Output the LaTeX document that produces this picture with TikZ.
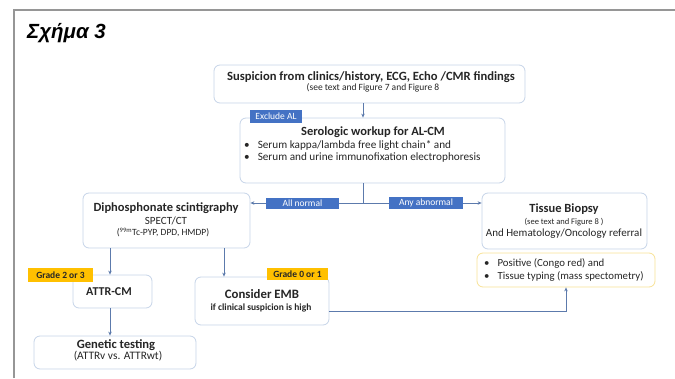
\documentclass[tikz,border=0pt]{standalone}
\usepackage{fontspec}
\setmainfont{Carlito}
\newfontfamily\titlefont{Liberation Sans}
\usetikzlibrary{arrows.meta}
\definecolor{framecol}{RGB}{150,150,150}
\definecolor{boxcol}{RGB}{198,212,232}
\definecolor{typecol}{RGB}{248,226,150}
\definecolor{linecol}{RGB}{92,122,172}
\definecolor{tagcol}{RGB}{68,114,196}
\definecolor{goldcol}{RGB}{255,192,0}
\definecolor{textcol}{RGB}{38,38,38}
\tikzset{
  box/.style={draw=boxcol, rounded corners=6pt, line width=0.8pt, fill=white, inner sep=0pt},
  txt/.style={anchor=mid, inner sep=0pt, text=textcol},
  blt/.style={anchor=mid west, inner sep=0pt, text=textcol},
  tagblue/.style={fill=tagcol, text=white, inner sep=0pt, font=\fontsize{9.5}{9.5}\selectfont},
  taggold/.style={fill=goldcol, text=textcol, inner sep=0pt, font=\bfseries\fontsize{9.5}{9.5}\selectfont},
  arr/.style={-{Stealth[length=4pt,width=3.5pt]}, linecol, line width=0.8pt},
}
\newcommand{\fs}[1]{\fontsize{#1}{#1}\selectfont}

\begin{document}
\begin{tikzpicture}[x=1pt, y=-1pt]

  \useasboundingbox (0,0) rectangle (675,378);

  % Frame and title.
  \draw[framecol, line width=1.6pt] (14,378) -- (14,10) -- (675,10);
  \node[anchor=base west, inner sep=0pt] (title) at (27,38)
    {\titlefont\bfseries\itshape\fs{20.5}Σχήμα 3};

  % Helper positions for the connectors.
  \coordinate (c1) at (363,203);
  \coordinate (c2) at (110,0);
  \coordinate (c3) at (224,0);

  % Boxes.
  \node[box, minimum width=311pt, minimum height=38pt] (susp) at (369.5,84) {};
  \node[box, minimum width=265pt, minimum height=65pt] (sero) at (372.5,150.5) {};
  \node[box, minimum width=167pt, minimum height=55pt] (diph) at (166.5,220.5) {};
  \node[box, minimum width=165pt, minimum height=56pt] (tissue) at (564.5,221) {};
  \node[box, draw=typecol, minimum width=178pt, minimum height=34pt] (typing) at (566,270) {};
  \node[box, minimum width=79pt, minimum height=33pt] (attr) at (112.5,291.5) {};
  \node[box, minimum width=134pt, minimum height=48pt] (emb) at (262,301) {};
  \node[box, minimum width=162pt, minimum height=33pt] (genet) at (115,352.5) {};

  % Connectors.
  \draw[arr] (susp.south -| c1) -- (sero.north -| c1);
  \draw[linecol, line width=0.8pt] (sero.south -| c1) -- (c1);
  \draw[arr] (c1) -- (c1 -| diph.east);
  \draw[arr] (c1) -- (c1 -| tissue.west);
  \draw[arr] (diph.south -| c2) -- (attr.north -| c2);
  \draw[arr] (diph.south -| c3) -- (emb.north -| c3);
  \draw[arr] (attr.south -| c2) -- (genet.north -| c2);
  \draw[arr] ([yshift=-10pt]emb.east) -| (typing.south);

  % Tags.
  \node[tagblue, minimum width=52pt, minimum height=12.5pt] (excl) at (276,116.5) {Exclude AL};
  \node[tagblue, minimum width=73pt, minimum height=11.5pt] (normal) at (302.5,203.5) {All normal};
  \node[tagblue, minimum width=74pt, minimum height=12pt] (abnormal) at (426,203) {Any abnormal};
  \node[taggold, minimum width=65pt, minimum height=14pt] (g23) at (60.5,275) {Grade 2 or 3};
  \node[taggold, minimum width=61pt, minimum height=12pt] (g01) at (297.5,274) {Grade 0 or 1};

  % Texts.
  \node[txt, font=\bfseries\fs{12.6}] (susp-a) at (371,78)
    {Suspicion from clinics/history, ECG, Echo /CMR findings};
  \node[txt, font=\fs{9.5}] (susp-b) at (373,88.5) {(see text and Figure 7 and Figure 8};

  \node[txt, font=\bfseries\fs{12.5}] (sero-a) at (373,133) {Serologic workup for AL-CM};
  \node[blt, font=\fs{11.2}] (sero-b) at (244,146.5)
    {\textbullet\hspace{8pt}Serum kappa/lambda free light chain* and};
  \node[blt, font=\fs{11.2}] (sero-c) at (244,158.5)
    {\textbullet\hspace{8pt}Serum and urine immunofixation electrophoresis};

  \node[txt, font=\bfseries\fs{12.5}] (diph-a) at (166,209) {Diphosphonate scintigraphy};
  \node[txt, font=\fs{11}] (diph-b) at (166,222.5) {SPECT/CT};
  \node[txt, font=\fs{9.5}] (diph-c) at (163,233.5) {(\textsuperscript{99m}Tc-PYP, DPD, HMDP)};

  \node[txt, font=\bfseries\fs{12.5}] (tissue-a) at (564,210) {Tissue Biopsy};
  \node[txt, font=\fs{8.5}] (tissue-b) at (564,222.5) {(see text and Figure 8 )};
  \node[txt, font=\fs{11}] (tissue-c) at (564,234) {And Hematology/Oncology referral};

  \node[blt, font=\fs{10.8}] (typing-a) at (484,264.5)
    {\textbullet\hspace{8pt}Positive (Congo red) and};
  \node[blt, font=\fs{10.8}] (typing-b) at (484,277)
    {\textbullet\hspace{8pt}Tissue typing (mass spectometry)};

  \node[txt, font=\bfseries\fs{12}] (attr-a) at (109,293) {ATTR-CM};

  \node[txt, font=\bfseries\fs{12.8}] (emb-a) at (262,296) {Consider EMB};
  \node[txt, font=\bfseries\fs{9.5}] (emb-b) at (261,308) {if clinical suspicion is high};

  \node[txt, font=\bfseries\fs{12.6}] (genet-a) at (116,346) {Genetic testing};
  \node[txt, font=\fs{11.4}] (genet-b) at (118,357) {(ATTRv vs. ATTRwt)};

\end{tikzpicture}
\end{document}
